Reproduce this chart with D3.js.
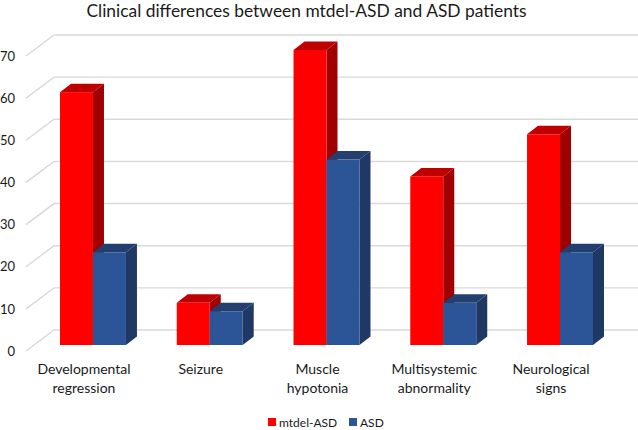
<!DOCTYPE html>
<html>
<head>
<meta charset="utf-8">
<script src="https://cdn.jsdelivr.net/npm/d3@7"></script>
<style>
  body { margin: 0; background: #fff; }
  text { font-family: Lato, "Open Sans", sans-serif; fill: #1a1a1a; }
</style>
</head>
<body>
<div id="chart"></div>
<script>
// Data
var categories = [
  ["Developmental", "regression"],
  ["Seizure"],
  ["Muscle", "hypotonia"],
  ["Multisystemic", "abnormality"],
  ["Neurological", "signs"]
];
var mtdelValues = [60, 10, 70, 40, 50];
var asdValues = [22, 8, 44, 10, 22];
var seriesNames = ["mtdel-ASD", "ASD"];
var tickValues = [0, 10, 20, 30, 40, 50, 60, 70];

var width = 638;
var height = 430;

// Depth of the fake 3d
var depthX = 11;
var depthY = 8.5;

var svg = d3.select("#chart")
  .append("svg")
  .attr("width", width)
  .attr("height", height)
  .style("display", "block");

var x0 = d3.scaleBand()
  .domain(d3.range(categories.length))
  .range([34.6, 618.4])
  .paddingInner(0.435)
  .paddingOuter(0.2175);

var x1 = d3.scaleBand()
  .domain([0, 1])
  .range([0, x0.bandwidth()]);

var y = d3.scaleLinear()
  .domain([0, 70])
  .range([345, 50]);

// Title
svg.append("text")
  .attr("x", 306.5)
  .attr("y", 17)
  .attr("text-anchor", "middle")
  .style("font-size", "17.4px")
  .text("Clinical differences between mtdel-ASD and ASD patients");

// Back wall gridlines plus the slanted bit on the left
var backX = 54, wallX = 26, backUp = 15, wallDown = 6;
var grid = svg.append("g");
tickValues.forEach(function (t) {
  grid.append("path")
    .attr("d", "M" + wallX + "," + (y(t) + wallDown) +
      "L" + backX + "," + (y(t) - backUp) +
      "L" + width + "," + (y(t) - backUp))
    .attr("fill", "none")
    .attr("stroke", "#d9d9d9")
    .attr("stroke-width", 1.4);
});

// Value axis, labels only
var yAxis = d3.axisLeft(y)
  .tickValues(tickValues)
  .tickSize(0)
  .tickPadding(0);

var axisG = svg.append("g")
  .attr("transform", "translate(15,6)")
  .call(yAxis);
axisG.select(".domain").remove();
axisG.selectAll("text")
  .style("font-size", "13px")
  .style("font-family", "Lato, 'Open Sans', sans-serif")
  .attr("fill", "#1a1a1a");

// One box: front, top and side faces
function drawBar(g, left, w, value, c) {
  var top = y(value), bottom = y(0);
  g.append("path")
    .attr("d", "M" + (left + w) + "," + bottom +
      "L" + (left + w + depthX) + "," + (bottom - depthY) +
      "L" + (left + w + depthX) + "," + (top - depthY) +
      "L" + (left + w) + "," + top + "Z")
    .attr("fill", c.side);
  g.append("path")
    .attr("d", "M" + left + "," + top +
      "L" + (left + depthX) + "," + (top - depthY) +
      "L" + (left + w + depthX) + "," + (top - depthY) +
      "L" + (left + w) + "," + top + "Z")
    .attr("fill", c.top);
  g.append("rect")
    .attr("x", left)
    .attr("y", top)
    .attr("width", w)
    .attr("height", bottom - top)
    .attr("fill", c.front);
}

var red = { front: "#ff0000", top: "#bf0000", side: "#a00000" };
var blue = { front: "#2c5597", top: "#223f70", side: "#1f3864" };

var bars = svg.append("g");
categories.forEach(function (c, i) {
  var g = bars.append("g");
  drawBar(g, x0(i) + x1(0), x1.bandwidth(), mtdelValues[i], red);
  drawBar(g, x0(i) + x1(1), x1.bandwidth(), asdValues[i], blue);
});

// Category labels, wrapped on two lines
var labels = svg.append("g");
categories.forEach(function (lines, i) {
  var t = labels.append("text")
    .attr("text-anchor", "middle")
    .style("font-size", "14px");
  lines.forEach(function (line, j) {
    t.append("tspan")
      .attr("x", x0(i) + x0.bandwidth() / 2 - 9)
      .attr("y", 374 + j * 19)
      .text(line);
  });
});

// Legend
var legendX = [268, 349];
var legendColors = [red.front, blue.front];
seriesNames.forEach(function (name, i) {
  svg.append("rect")
    .attr("x", legendX[i])
    .attr("y", 418)
    .attr("width", 8)
    .attr("height", 8)
    .attr("fill", legendColors[i]);
  svg.append("text")
    .attr("x", legendX[i] + 11)
    .attr("y", 427)
    .style("font-size", "12px")
    .text(name);
});
</script>
</body>
</html>
